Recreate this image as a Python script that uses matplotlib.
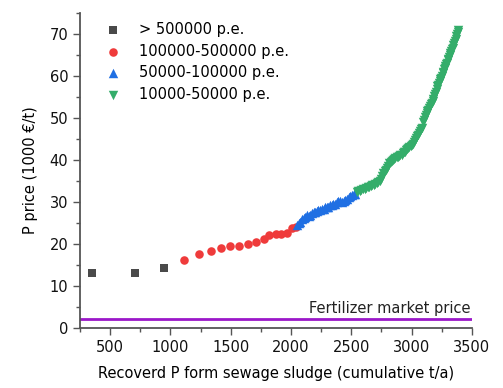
import matplotlib

matplotlib.use("Agg")
import matplotlib.pyplot as plt
from matplotlib.ticker import MultipleLocator

plt.rcParams["font.family"] = ["DejaVu Sans"]
plt.rcParams["font.size"] = 10

# cumulative recovered P (t/a) vs. P price (1000 EUR/t), by plant size class
big_x = [352, 706, 946]
big_y = [13.1, 13.2, 14.2]

large_x = [1112, 1236, 1333, 1416, 1495, 1573, 1644, 1711, 1774, 1818,
           1874, 1921, 1967, 2012, 2045]
large_y = [16.1, 17.6, 18.3, 19.1, 19.5, 19.6, 20.1, 20.4, 21.3, 22.1,
           22.3, 22.4, 22.6, 23.9, 24.0]

medium_x = [2050, 2065, 2078, 2092, 2105, 2120, 2133, 2147, 2160, 2174,
            2188, 2201, 2215, 2228, 2242, 2256, 2270, 2283, 2297, 2311,
            2325, 2338, 2352, 2366, 2380, 2394, 2408, 2422, 2436, 2450,
            2464, 2478, 2492, 2506, 2520, 2533]
medium_y = [24.6, 25.0, 25.3, 25.9, 26.1, 26.4, 26.8, 26.7, 27.0, 27.3,
            27.6, 27.5, 27.8, 28.1, 28.0, 28.3, 28.4, 28.8, 28.9, 28.9,
            29.2, 29.4, 29.5, 29.6, 29.9, 30.2, 30.3, 30.1, 30.3, 30.5,
            30.8, 31.2, 31.4, 31.6, 31.8, 32.0]

small_x = [2545, 2558, 2571, 2584, 2597, 2610, 2623, 2636, 2649, 2662,
           2675, 2688, 2700, 2712, 2724, 2735, 2746, 2757, 2767, 2777,
           2787, 2797, 2807, 2817, 2827, 2837, 2847, 2857, 2867, 2877,
           2887, 2897, 2907, 2917, 2927, 2937, 2947, 2956, 2965, 2974,
           2983, 2992, 3001, 3010, 3019, 3028, 3037, 3046, 3055, 3064,
           3073, 3082, 3090, 3097, 3104, 3111, 3118, 3125, 3132, 3139,
           3146, 3153, 3160, 3167, 3174, 3181, 3188, 3195, 3202, 3209,
           3215, 3221, 3227, 3233, 3239, 3245, 3251, 3257, 3263, 3269,
           3275, 3281, 3287, 3293, 3299, 3305, 3311, 3317, 3323, 3329,
           3335, 3341, 3347, 3353, 3359, 3365, 3371, 3377, 3383, 3389]
small_y = [32.3, 32.5, 32.6, 32.9, 33.0, 33.1, 33.4, 33.5, 33.6, 33.9,
           34.0, 34.1, 34.3, 34.6, 34.8, 35.0, 35.5, 36.1, 36.8, 37.4,
           37.6, 38.0, 38.6, 39.2, 39.6, 39.8, 40.1, 40.2, 40.5, 40.7,
           40.8, 41.0, 41.2, 41.3, 41.6, 41.9, 42.0, 42.3, 42.5, 42.8,
           43.0, 43.3, 43.6, 43.9, 44.3, 44.7, 45.2, 45.6, 46.0, 46.5,
           46.9, 47.3, 47.6, 49.0, 49.6, 50.3, 50.8, 51.2, 51.7, 52.0,
           52.4, 52.9, 53.3, 53.6, 54.1, 54.6, 55.2, 55.8, 56.3, 56.9,
           57.5, 57.9, 58.4, 58.7, 59.3, 59.6, 60.1, 60.6, 61.0, 61.6,
           61.9, 62.4, 62.9, 63.2, 63.7, 64.1, 64.6, 64.9, 65.5, 66.0,
           66.4, 66.7, 67.3, 67.8, 68.3, 68.9, 69.4, 69.9, 70.4, 70.9]

market_price = 2.1

fig = plt.figure(figsize=(5.03, 3.88), dpi=100)
ax = fig.add_axes([0.159, 0.1546, 0.779, 0.812])

ax.axhline(market_price, color="#9B17C9", lw=2, zorder=1)
ax.text(3490, market_price + 0.8, "Fertilizer market price",
        ha="right", va="bottom", fontsize=10.5, color="#222222")

ax.scatter(big_x, big_y, marker="s", s=28, color="#4A4A4A", lw=0,
           label="> 500000 p.e.", zorder=3)
ax.scatter(large_x, large_y, marker="o", s=38, color="#EF3B3B", lw=0,
           label="100000-500000 p.e.", zorder=3)
ax.scatter(medium_x, medium_y, marker="^", s=46, color="#1F6FE3", lw=0,
           label="50000-100000 p.e.", zorder=3)
ax.scatter(small_x, small_y, marker="v", s=46, color="#34AD6A", lw=0,
           label="10000-50000 p.e.", zorder=3)

ax.set_xlim(250, 3500)
ax.set_ylim(0, 75)
ax.xaxis.set_major_locator(MultipleLocator(500))
ax.xaxis.set_minor_locator(MultipleLocator(250))
ax.yaxis.set_major_locator(MultipleLocator(10))
ax.yaxis.set_minor_locator(MultipleLocator(5))

for side in ("top", "right"):
    ax.spines[side].set_visible(False)
for side in ("left", "bottom"):
    ax.spines[side].set_color("#555555")
    ax.spines[side].set_linewidth(1.3)
ax.tick_params(which="major", length=5, width=1, color="#555555",
               labelsize=10.5, labelcolor="#111111")
ax.tick_params(which="minor", length=3, width=1, color="#555555")

ax.set_xlabel("Recoverd P form sewage sludge (cumulative t/a)",
              fontsize=10.5, labelpad=8)
ax.set_ylabel("P price (1000 €/t)", fontsize=10.5, labelpad=8)

ax.legend(loc="upper left", bbox_to_anchor=(0.033, 0.99), frameon=False,
          fontsize=10.5, handletextpad=0.75, labelspacing=0.45,
          borderaxespad=0, scatterpoints=1)

fig.savefig("out.png", dpi=100)
